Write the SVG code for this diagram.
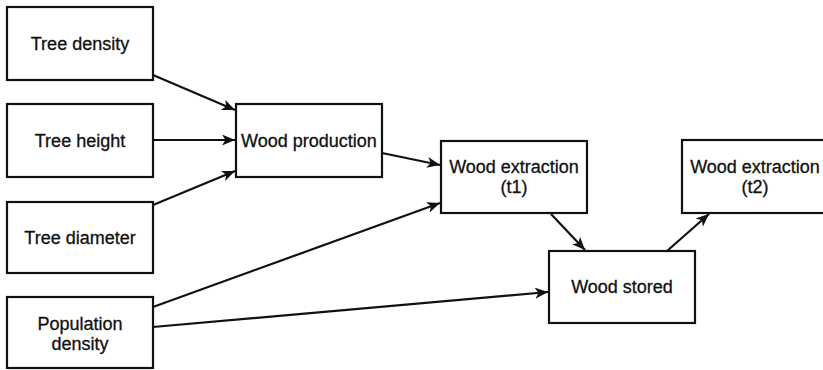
<svg xmlns="http://www.w3.org/2000/svg" width="823" height="370" viewBox="0 0 823 370">
  <style>
    .box { fill: #ffffff; stroke: #111111; stroke-width: 2.2; }
    .lbl { font-family: "Liberation Sans", Arial, sans-serif; font-size: 18px; fill: #111111; stroke: #111111; stroke-width: 0.3; text-anchor: middle; }
    .edge { fill: none; stroke: #111111; stroke-width: 2.2; marker-end: url(#arrow); }
  </style>
  <defs>
    <marker id="arrow" markerUnits="userSpaceOnUse" markerWidth="16" markerHeight="14" refX="13" refY="5.5" orient="auto">
      <path d="M0,0 L13,5.5 L0,11 L3.5,5.5 Z" fill="#111111"/>
    </marker>
  </defs>
  <rect width="823" height="370" fill="#ffffff"/>

  <g id="connectors">
    <path class="edge" d="M153,75 L235,110"/>
    <path class="edge" d="M153,140 L235,140"/>
    <path class="edge" d="M153,205 L235,171"/>
    <path class="edge" d="M382,153 L440,165"/>
    <path class="edge" d="M153,307 L440,203"/>
    <path class="edge" d="M153,327 L548,292"/>
    <path class="edge" d="M551,214 L585,250"/>
    <path class="edge" d="M667,251 L709,214"/>
  </g>

  <g id="tree-density">
    <rect class="box" x="7" y="7" width="146" height="73"/>
    <text class="lbl" x="80" y="50">Tree density</text>
  </g>
  <g id="tree-height">
    <rect class="box" x="7" y="104" width="146" height="73"/>
    <text class="lbl" x="80" y="147">Tree height</text>
  </g>
  <g id="tree-diameter">
    <rect class="box" x="7" y="202" width="146" height="71"/>
    <text class="lbl" x="80" y="244">Tree diameter</text>
  </g>
  <g id="population-density">
    <rect class="box" x="7" y="297" width="146" height="71"/>
    <text class="lbl" x="80" y="330">Population</text>
    <text class="lbl" x="80" y="350">density</text>
  </g>
  <g id="wood-production">
    <rect class="box" x="236" y="104" width="146" height="73"/>
    <text class="lbl" x="309" y="147">Wood production</text>
  </g>
  <g id="wood-extraction-t1">
    <rect class="box" x="441" y="141" width="146" height="72"/>
    <text class="lbl" x="514" y="173">Wood extraction</text>
    <text class="lbl" x="514" y="193">(t1)</text>
  </g>
  <g id="wood-stored">
    <rect class="box" x="549" y="251" width="146" height="72"/>
    <text class="lbl" x="622" y="293">Wood stored</text>
  </g>
  <g id="wood-extraction-t2">
    <rect class="box" x="682" y="140" width="146" height="73"/>
    <text class="lbl" x="755" y="173">Wood extraction</text>
    <text class="lbl" x="755" y="193">(t2)</text>
  </g>
</svg>
